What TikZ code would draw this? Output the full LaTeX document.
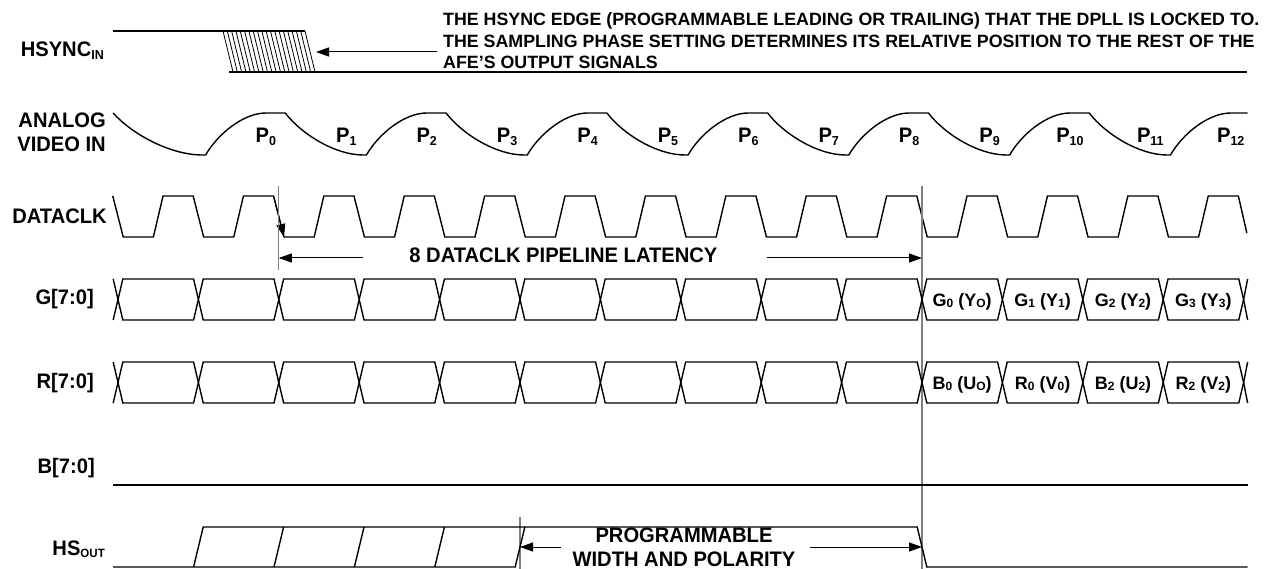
\documentclass[tikz,border=0pt]{standalone}
\usepackage{fontspec}
\setmainfont{Liberation Sans}
\newfontfamily\cond{Liberation Sans}[FakeStretch=0.96]
\usetikzlibrary{arrows.meta}
\newcommand\sbs[1]{\raisebox{-0.1em}{\fontsize{13}{13}\selectfont #1}}
\newcommand\sbb[1]{\raisebox{-0.1em}{\fontsize{12}{12}\selectfont #1}}
\tikzset{
  sig/.style={line width=1.4pt, line join=miter},
  hatchln/.style={line width=0.8pt},
  lbl/.style={font=\cond\bfseries\fontsize{21}{24}\selectfont, inner sep=0pt},
  boxlbl/.style={font=\bfseries\fontsize{18}{20}\selectfont, inner sep=0pt},
  ann/.style={font=\bfseries\fontsize{17.8}{21.5}\selectfont, inner sep=0pt, align=left},
  arr/.style={line width=1pt, -{Triangle[length=13pt,width=9pt]}},
  guide/.style={line width=1.1pt, draw=black!50},
}
\begin{document}
\begin{tikzpicture}[x=1pt,y=-1pt]
\useasboundingbox (0,0) rectangle (1274,569);
\fill[white] (0,0) rectangle (1274,569);
% ---------- row labels
\node[lbl,anchor=base east] (lhsync) at (104,57) {HSYNC\sbs{IN}};
\node[lbl,anchor=north east,align=right] (lana) at (106,113) {ANALOG\\VIDEO IN};
\node[lbl,anchor=base east] (lclk) at (107,224) {DATACLK};
\node[lbl,anchor=base east] (lg) at (94,305) {G[7:0]};
\node[lbl,anchor=base east] (lr) at (94,388) {R[7:0]};
\node[lbl,anchor=base east] (lb) at (95,473) {B[7:0]};
\node[lbl,anchor=base east] (lhs) at (105,555) {HS\sbb{OUT}};
% ---------- HSYNC in
\draw[sig] (113,31) -- (305,31);
\draw[sig] (229,72) -- (1247,72);
\foreach \i in {0,...,19} \draw[hatchln] (223+4.316*\i,31) -- (233+4.316*\i,72);
\coordinate (hsA) at (437,52);
\coordinate (hsB) at (316,52);
\draw[arr] (hsA) -- (hsB);
\node[ann,anchor=north west] (note) at (443,12.5) {THE HSYNC EDGE (PROGRAMMABLE LEADING OR TRAILING) THAT THE DPLL IS LOCKED TO.\\THE SAMPLING PHASE SETTING DETERMINES ITS RELATIVE POSITION TO THE REST OF THE\\AFE’S OUTPUT SIGNALS};
% ---------- timing scope
\begin{scope}[shift={(118,0)}, x=80.4pt]
% analog video
\draw[sig] (-0.06,113) .. controls (0.17,134) and (0.65,155) .. (1.05,155) -- (1.09,155)
  .. controls (1.24,134) and (1.56,113) .. (1.84,113)
  \foreach \m in {1,...,6} {
    -- (2*\m+0.08,113) .. controls (2*\m+0.28,134) and (2*\m+0.70,155) .. (2*\m+1.05,155)
    -- (2*\m+1.09,155) .. controls (2*\m+1.24,134) and (2*\m+1.56,113) .. (2*\m+1.84,113)
  } -- (14.05,113);
\foreach \k in {0,...,12} \node[lbl,anchor=base] (p\k) at (\k+1.84,143) {P\sbs{\k}};
% DATACLK
\draw[sig] (-0.065,196) \foreach \k in {0,...,13} {
   -- (\k+0.065,237) -- (\k+0.44,237) -- (\k+0.56,196) -- (\k+0.935,196) } -- (14.04,233);
\coordinate (ckA) at (1.935,196);
\coordinate (ckB) at (2.065,237);
\draw[arr] (ckA) -- (ckB);
% guides
\coordinate (g1t) at (2,186); \coordinate (g1b) at (2,270);
\coordinate (g2t) at (10,186); \coordinate (g2b) at (10,569);
\coordinate (g3t) at (5,517); \coordinate (g3b) at (5,569);
\draw[guide] (g1t) -- (g1b);
\draw[guide] (g2t) -- (g2b);
\draw[guide] (g3t) -- (g3b);
% latency
\node[lbl,anchor=base] (lat) at (5.54,263) {8 DATACLK PIPELINE LATENCY};
\coordinate (latLa) at (3.05,258); \coordinate (latLb) at (2,258);
\coordinate (latRa) at (8.07,258); \coordinate (latRb) at (10,258);
\draw[arr] (latLa) -- (latLb);
\draw[arr] (latRa) -- (latRb);
% buses
\foreach \t/\b in {279/320, 362/403} {
  \draw[sig] (-0.06,\t) -- (0,{(\t+\b)/2}) -- (-0.06,\b);
  \foreach \k in {0,...,13}
    \draw[sig] (\k,{(\t+\b)/2}) -- (\k+0.06,\t) -- (\k+0.94,\t) -- (\k+1,{(\t+\b)/2})
       -- (\k+0.94,\b) -- (\k+0.06,\b) -- cycle;
  \draw[sig] (14.05,\t) -- (14,{(\t+\b)/2}) -- (14.05,\b);
}
\node[boxlbl,anchor=base] (g0) at (10.5,306) {G\sbb{0} (Y\sbb{O})};
\node[boxlbl,anchor=base] (g1) at (11.5,306) {G\sbb{1} (Y\sbb{1})};
\node[boxlbl,anchor=base] (g2) at (12.5,306) {G\sbb{2} (Y\sbb{2})};
\node[boxlbl,anchor=base] (g3) at (13.5,306) {G\sbb{3} (Y\sbb{3})};
\node[boxlbl,anchor=base] (r0) at (10.5,389) {B\sbb{0} (U\sbb{O})};
\node[boxlbl,anchor=base] (r1) at (11.5,389) {R\sbb{0} (V\sbb{0})};
\node[boxlbl,anchor=base] (r2) at (12.5,389) {B\sbb{2} (U\sbb{2})};
\node[boxlbl,anchor=base] (r3) at (13.5,389) {R\sbb{2} (V\sbb{2})};
% B bus
\draw[sig] (-0.06,485) -- (14.05,485);
% HS out
\draw[sig] (-0.06,567) -- (4.94,567) -- (5.06,527);
\draw[sig] (0.94,567) -- (1.06,527) -- (9.94,527) -- (10.06,567) -- (14.05,567);
\foreach \k in {2,3,4} \draw[sig] (\k-0.06,567) -- (\k+0.06,527);
\node[lbl,anchor=north,align=center] (prog) at (7.04,528) {PROGRAMMABLE\\WIDTH AND POLARITY};
\coordinate (pwLa) at (5.51,547); \coordinate (pwLb) at (5,547);
\coordinate (pwRa) at (8.61,547); \coordinate (pwRb) at (10,547);
\draw[arr] (pwLa) -- (pwLb);
\draw[arr] (pwRa) -- (pwRb);
\end{scope}
\end{tikzpicture}
\end{document}
